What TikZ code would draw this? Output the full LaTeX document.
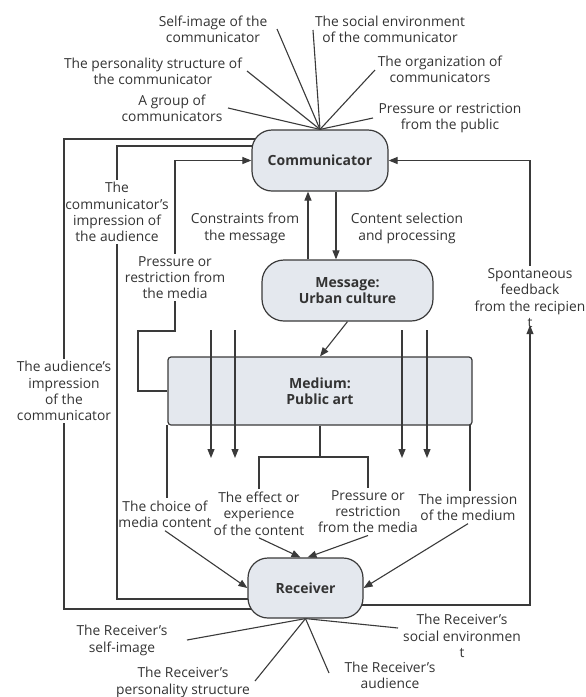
\documentclass[tikz,border=0pt]{standalone}
\usepackage{fontspec}
\setmainfont{Open Sans}
\usetikzlibrary{arrows.meta,backgrounds}
\definecolor{ln}{HTML}{3A3A3A}
\definecolor{boxfill}{HTML}{E4E8EE}
\definecolor{txt}{HTML}{333333}
\begin{document}
\begin{tikzpicture}[x=1pt,y=-1pt,
  lbl/.style={align=center,font=\fontsize{13.8}{16.3}\selectfont,text=txt,inner sep=2.5pt},
  box/.style={draw=ln,line width=1.2pt,fill=boxfill,font=\bfseries\fontsize{14}{16.3}\selectfont,text=txt,align=center,inner sep=0pt},
  conn/.style={draw=ln,line width=1.1pt},
  arr/.style={conn,-{Triangle[length=9pt,width=7pt]}},
]
\useasboundingbox (0,0) rectangle (586,697);

% main boxes
\node[box,rounded corners=20pt,minimum width=136pt,minimum height=61pt] (comm) at (320,160.5) {Communicator};
\node[box,rounded corners=22pt,minimum width=171pt,minimum height=61pt] (msg) at (347.5,290.5) {Message:\\Urban culture};
\node[box,rounded corners=3pt,minimum width=304pt,minimum height=68pt] (med) at (320,391) {Medium:\\Public art};
\node[box,rounded corners=20pt,minimum width=115pt,minimum height=60pt] (rec) at (305.5,588) {Receiver};

% labels
\node[lbl] (selfimg) at (213,29) {Self-image of the\\communicator};
\node[lbl] (socenv) at (390,29) {The social environment\\of the communicator};
\node[lbl] (pers) at (153,71) {The personality structure of\\the communicator};
\node[lbl] (org) at (440,69.5) {The organization of\\communicators};
\node[lbl] (grp) at (172,108.5) {A group of\\communicators};
\node[lbl] (pub) at (450,118) {Pressure or restriction\\from the public};
\node[lbl] (cimp) at (117,212) {The\\communicator's\\impression of\\the audience};
\node[lbl] (cons) at (245,228.5) {Constraints from\\the message};
\node[lbl] (csel) at (407,228.5) {Content selection\\and processing};
\node[lbl] (pmeda) at (175,277.5) {Pressure or\\restriction from\\the media};
\node[lbl] (spont) at (530,298) {Spontaneous\\feedback\\from the recipien\\t};
\node[lbl] (aimp) at (64,391) {The audience's\\impression\\of the\\communicator};
\node[lbl] (choice) at (165,514.5) {The choice of\\media content};
\node[lbl] (effect) at (259,513.5) {The effect or\\experience\\of the content};
\node[lbl] (pmedb) at (368,511.5) {Pressure or\\restriction\\from the media};
\node[lbl] (impr) at (468,507.5) {The impression\\of the medium};
\node[lbl] (rself) at (122,640.5) {The Receiver's\\self-image};
\node[lbl] (rsoc) at (462,636) {The Receiver's\\social environmen\\t};
\node[lbl] (rpers) at (183,682.5) {The Receiver's\\personality structure};
\node[lbl] (raud) at (390,675) {The Receiver's\\audience};

% helper coordinates
\coordinate (ya) at (0,139);
\coordinate (yb) at (0,146);
\coordinate (yc) at (0,609);
\coordinate (yd) at (0,599);
\coordinate (ye) at (0,605);
\coordinate (xa) at (308,0);
\coordinate (xb) at (336,0);
\coordinate (bend) at (138,331);
\coordinate (bj) at (320,457);
\coordinate (ml) at (167,425);
\coordinate (mr) at (470,425);
\coordinate (ts) at (277,29);
\coordinate (tso) at (313,30);
\coordinate (tp) at (247,71);
\coordinate (to) at (375,70);
\coordinate (tg) at (228,108);
\coordinate (tpu) at (373,118);
\coordinate (bs) at (187,640);
\coordinate (bso) at (398,628);
\coordinate (bp) at (255,681);
\coordinate (ba) at (329,673);
\coordinate (va1) at (211,330); \coordinate (vb1) at (211,458);
\coordinate (va2) at (235,330); \coordinate (vb2) at (235,458);
\coordinate (va3) at (402,330); \coordinate (vb3) at (402,458);
\coordinate (va4) at (427,330); \coordinate (vb4) at (427,458);

\begin{pgfonlayer}{background}
  % factors around the communicator
  \foreach \p in {ts,tso,tp,to,tg,tpu} \draw[conn] (\p) -- (comm.north);
  % left loops
  \draw[conn] (comm |- ya) -| (aimp.north);
  \draw[conn] (aimp.south) |- (rec |- yc);
  \draw[conn] (comm |- yb) -| (cimp.north);
  \draw[conn] (cimp.south) |- (rec |- yd);
  \draw[arr] (pmeda.north) |- (comm.west);
  \draw[conn] (med.west) -| (bend) -| (pmeda.south);
  % right feedback loop
  \draw[arr] (rec |- ye) -| ([yshift=5pt]spont.south);
  \draw[arr] (spont.north) |- (comm.east);
  % communicator <-> message
  \draw[arr] (msg.north -| xa) -- (comm.south -| xa);
  \draw[arr] (comm.south -| xb) -- (msg.north -| xb);
  \draw[arr] (msg.south) -- (med.north);
  % below the medium
  \draw[conn] (med.south) -- (bj);
  \draw[conn] (effect.north) |- (bj) -| (pmedb.north);
  \draw[conn] (ml) -- (ml |- choice.north);
  \draw[conn] (mr) -- (mr |- impr.north);
  % into the receiver
  \draw[arr] (choice.south) -- (rec.west);
  \draw[arr] (effect.south) -- ([xshift=-5pt]rec.north);
  \draw[arr] (pmedb.south) -- ([xshift=2pt]rec.north);
  \draw[arr] (impr.south) -- (rec.east);
  % factors around the receiver
  \foreach \p in {bs,bso,bp,ba} \draw[conn] (\p) -- (rec.south);
\end{pgfonlayer}

% arrows crossing the medium
\draw[arr] (va1) -- (vb1);
\draw[arr] (va2) -- (vb2);
\draw[arr] (va3) -- (vb3);
\draw[arr] (va4) -- (vb4);
\end{tikzpicture}
\end{document}
